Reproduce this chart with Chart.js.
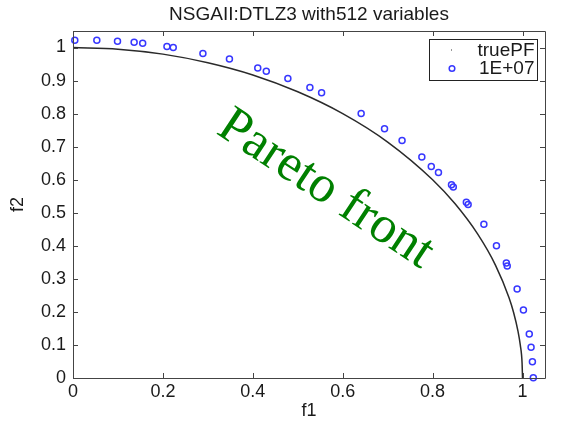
<!DOCTYPE html>
<html>
<head>
<meta charset="utf-8">
<script src="https://cdn.jsdelivr.net/npm/chart.js@4/dist/chart.umd.min.js"></script>
<style>
  html, body { margin: 0; padding: 0; background: #fff; }
  #c { display: block; }
</style>
</head>
<body>
<canvas id="c" width="561" height="421"></canvas>
<script>
// Title, axis names and legend entries
const chartTitle = 'NSGAII:DTLZ3 with512 variables';
const xAxisName = 'f1';
const yAxisName = 'f2';
const truePFLabel = 'truePF';
const obtainedLabel = '1E+07';
const noteText = 'Pareto front';

// Tick positions and labels
const xTickValues = [0, 0.2, 0.4, 0.6, 0.8, 1];
const xTickLabels = ['0', '0.2', '0.4', '0.6', '0.8', '1'];
const yTickValues = [0, 0.1, 0.2, 0.3, 0.4, 0.5, 0.6, 0.7, 0.8, 0.9, 1];
const yTickLabels = ['0', '0.1', '0.2', '0.3', '0.4', '0.5', '0.6', '0.7', '0.8', '0.9', '1'];

// True Pareto front (f1, f2)
const truePF_f1 = [0, 0.1, 0.2, 0.3, 0.4, 0.5, 0.6, 0.7, 0.8, 0.85, 0.9, 0.94, 0.97, 0.98, 0.99, 0.995, 0.999, 1];
const truePF_f2 = [1, 0.995, 0.98, 0.954, 0.917, 0.866, 0.8, 0.714, 0.6, 0.527, 0.436, 0.341, 0.243, 0.199, 0.141, 0.1, 0.045, 0];

// Obtained solutions after 1E+07 evaluations (f1, f2)
const obtained_f1 = [0.004, 0.053, 0.099, 0.136, 0.155, 0.209, 0.223, 0.289, 0.348, 0.411, 0.430, 0.478, 0.527, 0.553,
                     0.641, 0.693, 0.732, 0.776, 0.797, 0.813, 0.842, 0.846, 0.875, 0.879, 0.914, 0.942, 0.964, 0.966,
                     0.988, 1.002, 1.015, 1.019, 1.022, 1.024];
const obtained_f2 = [1.022, 1.022, 1.019, 1.016, 1.013, 1.003, 1.000, 0.982, 0.965, 0.938, 0.928, 0.906, 0.879, 0.863,
                     0.800, 0.754, 0.719, 0.669, 0.640, 0.622, 0.585, 0.578, 0.532, 0.525, 0.465, 0.400, 0.348, 0.339,
                     0.269, 0.206, 0.133, 0.093, 0.049, 0.001];

const FONT = '"Liberation Sans", Arial, Helvetica, sans-serif';
const INK = '#1a1a1a';
const FRAME = '#444';
const BLUE = 'rgb(55,55,255)';

const toPoints = (xs, ys) => xs.map((x, i) => ({ x: x, y: ys[i] }));

// Frame, inward ticks, titles, legend and annotation
const decorations = {
  id: 'decorations',
  afterDraw(chart) {
    const ctx = chart.ctx;
    const a = chart.chartArea;
    const xs = chart.scales.x, ys = chart.scales.y;
    const tl = 5;
    ctx.save();
    ctx.strokeStyle = FRAME;
    ctx.lineWidth = 1;
    ctx.beginPath();
    ctx.rect(Math.round(a.left) + 0.5, Math.round(a.top) + 0.5,
             Math.round(a.right - a.left), Math.round(a.bottom - a.top));
    ctx.stroke();
    ctx.beginPath();
    xTickValues.forEach(v => {
      const px = Math.round(xs.getPixelForValue(v)) + 0.5;
      ctx.moveTo(px, a.bottom); ctx.lineTo(px, a.bottom - tl);
      ctx.moveTo(px, a.top); ctx.lineTo(px, a.top + tl);
    });
    yTickValues.forEach(v => {
      const py = Math.round(ys.getPixelForValue(v)) + 0.5;
      ctx.moveTo(a.left, py); ctx.lineTo(a.left + tl, py);
      ctx.moveTo(a.right, py); ctx.lineTo(a.right - tl, py);
    });
    ctx.stroke();

    // chart title
    ctx.fillStyle = INK;
    ctx.font = '19px ' + FONT;
    ctx.textAlign = 'center';
    ctx.textBaseline = 'middle';
    ctx.fillText(chartTitle, (a.left + a.right) / 2, 15);

    // axis names
    ctx.font = '18px ' + FONT;
    ctx.fillText(xAxisName, 309, 411);
    ctx.save();
    ctx.translate(18, (a.top + a.bottom) / 2);
    ctx.rotate(-Math.PI / 2);
    ctx.fillText(yAxisName, 0, 0);
    ctx.restore();

    // legend box
    const lx = 429.5, ly = 39.5, lw = 108, lh = 41;
    ctx.fillStyle = '#fff';
    ctx.fillRect(lx, ly, lw, lh);
    ctx.strokeStyle = '#222';
    ctx.strokeRect(lx, ly, lw, lh);
    ctx.fillStyle = INK;
    ctx.font = '19px ' + FONT;
    ctx.textAlign = 'right';
    ctx.fillText(truePFLabel, lx + lw - 3, ly + 11);
    ctx.fillText(obtainedLabel, lx + lw - 3, ly + 29);
    ctx.fillStyle = '#333';
    ctx.fillRect(451, ly + 10, 1, 1);
    ctx.strokeStyle = BLUE;
    ctx.lineWidth = 1.5;
    ctx.beginPath();
    ctx.arc(452, ly + 29, 2.8, 0, Math.PI * 2);
    ctx.stroke();

    // rotated annotation
    ctx.save();
    ctx.translate(318, 201);
    ctx.rotate(33.5 * Math.PI / 180);
    ctx.fillStyle = 'rgb(0,128,0)';
    ctx.font = '52px "Liberation Serif", "Times New Roman", serif';
    ctx.textAlign = 'center';
    ctx.textBaseline = 'alphabetic';
    ctx.fillText(noteText, 0, 0);
    ctx.restore();

    ctx.restore();
  }
};

new Chart(document.getElementById('c'), {
  type: 'scatter',
  data: {
    datasets: [
      {
        label: truePFLabel,
        data: toPoints(truePF_f1, truePF_f2),
        showLine: true,
        borderColor: '#2a2a2a',
        borderWidth: 1.5,
        pointRadius: 0,
        pointHoverRadius: 0,
        cubicInterpolationMode: 'monotone',
        fill: false
      },
      {
        label: obtainedLabel,
        data: toPoints(obtained_f1, obtained_f2),
        showLine: false,
        pointStyle: 'circle',
        pointRadius: 3,
        pointBorderWidth: 1.5,
        pointBorderColor: BLUE,
        pointBackgroundColor: 'rgba(0,0,0,0)',
        borderColor: BLUE,
        backgroundColor: 'rgba(0,0,0,0)'
      }
    ]
  },
  options: {
    responsive: false,
    animation: false,
    devicePixelRatio: 1,
    clip: false,
    layout: { padding: { top: 31, right: 16, left: 0, bottom: 0 } },
    plugins: {
      legend: { display: false },
      title: { display: false },
      tooltip: { enabled: false }
    },
    scales: {
      x: {
        type: 'linear',
        min: 0,
        max: 1.05,
        grid: { display: false, drawTicks: false },
        border: { display: false },
        afterBuildTicks: s => { s.ticks = xTickValues.map(v => ({ value: v })); },
        afterFit: s => { s.height = 43; },
        ticks: {
          padding: 3,
          color: INK,
          font: { family: FONT, size: 18 },
          maxRotation: 0,
          autoSkip: false,
          callback: (v, i) => xTickLabels[i]
        }
      },
      y: {
        type: 'linear',
        min: 0,
        max: 1.05,
        grid: { display: false, drawTicks: false },
        border: { display: false },
        afterBuildTicks: s => { s.ticks = yTickValues.map(v => ({ value: v })); },
        afterFit: s => { s.width = 73; },
        ticks: {
          padding: 7,
          color: INK,
          font: { family: FONT, size: 18 },
          autoSkip: false,
          callback: (v, i) => yTickLabels[i]
        }
      }
    }
  },
  plugins: [decorations]
});
</script>
</body>
</html>
